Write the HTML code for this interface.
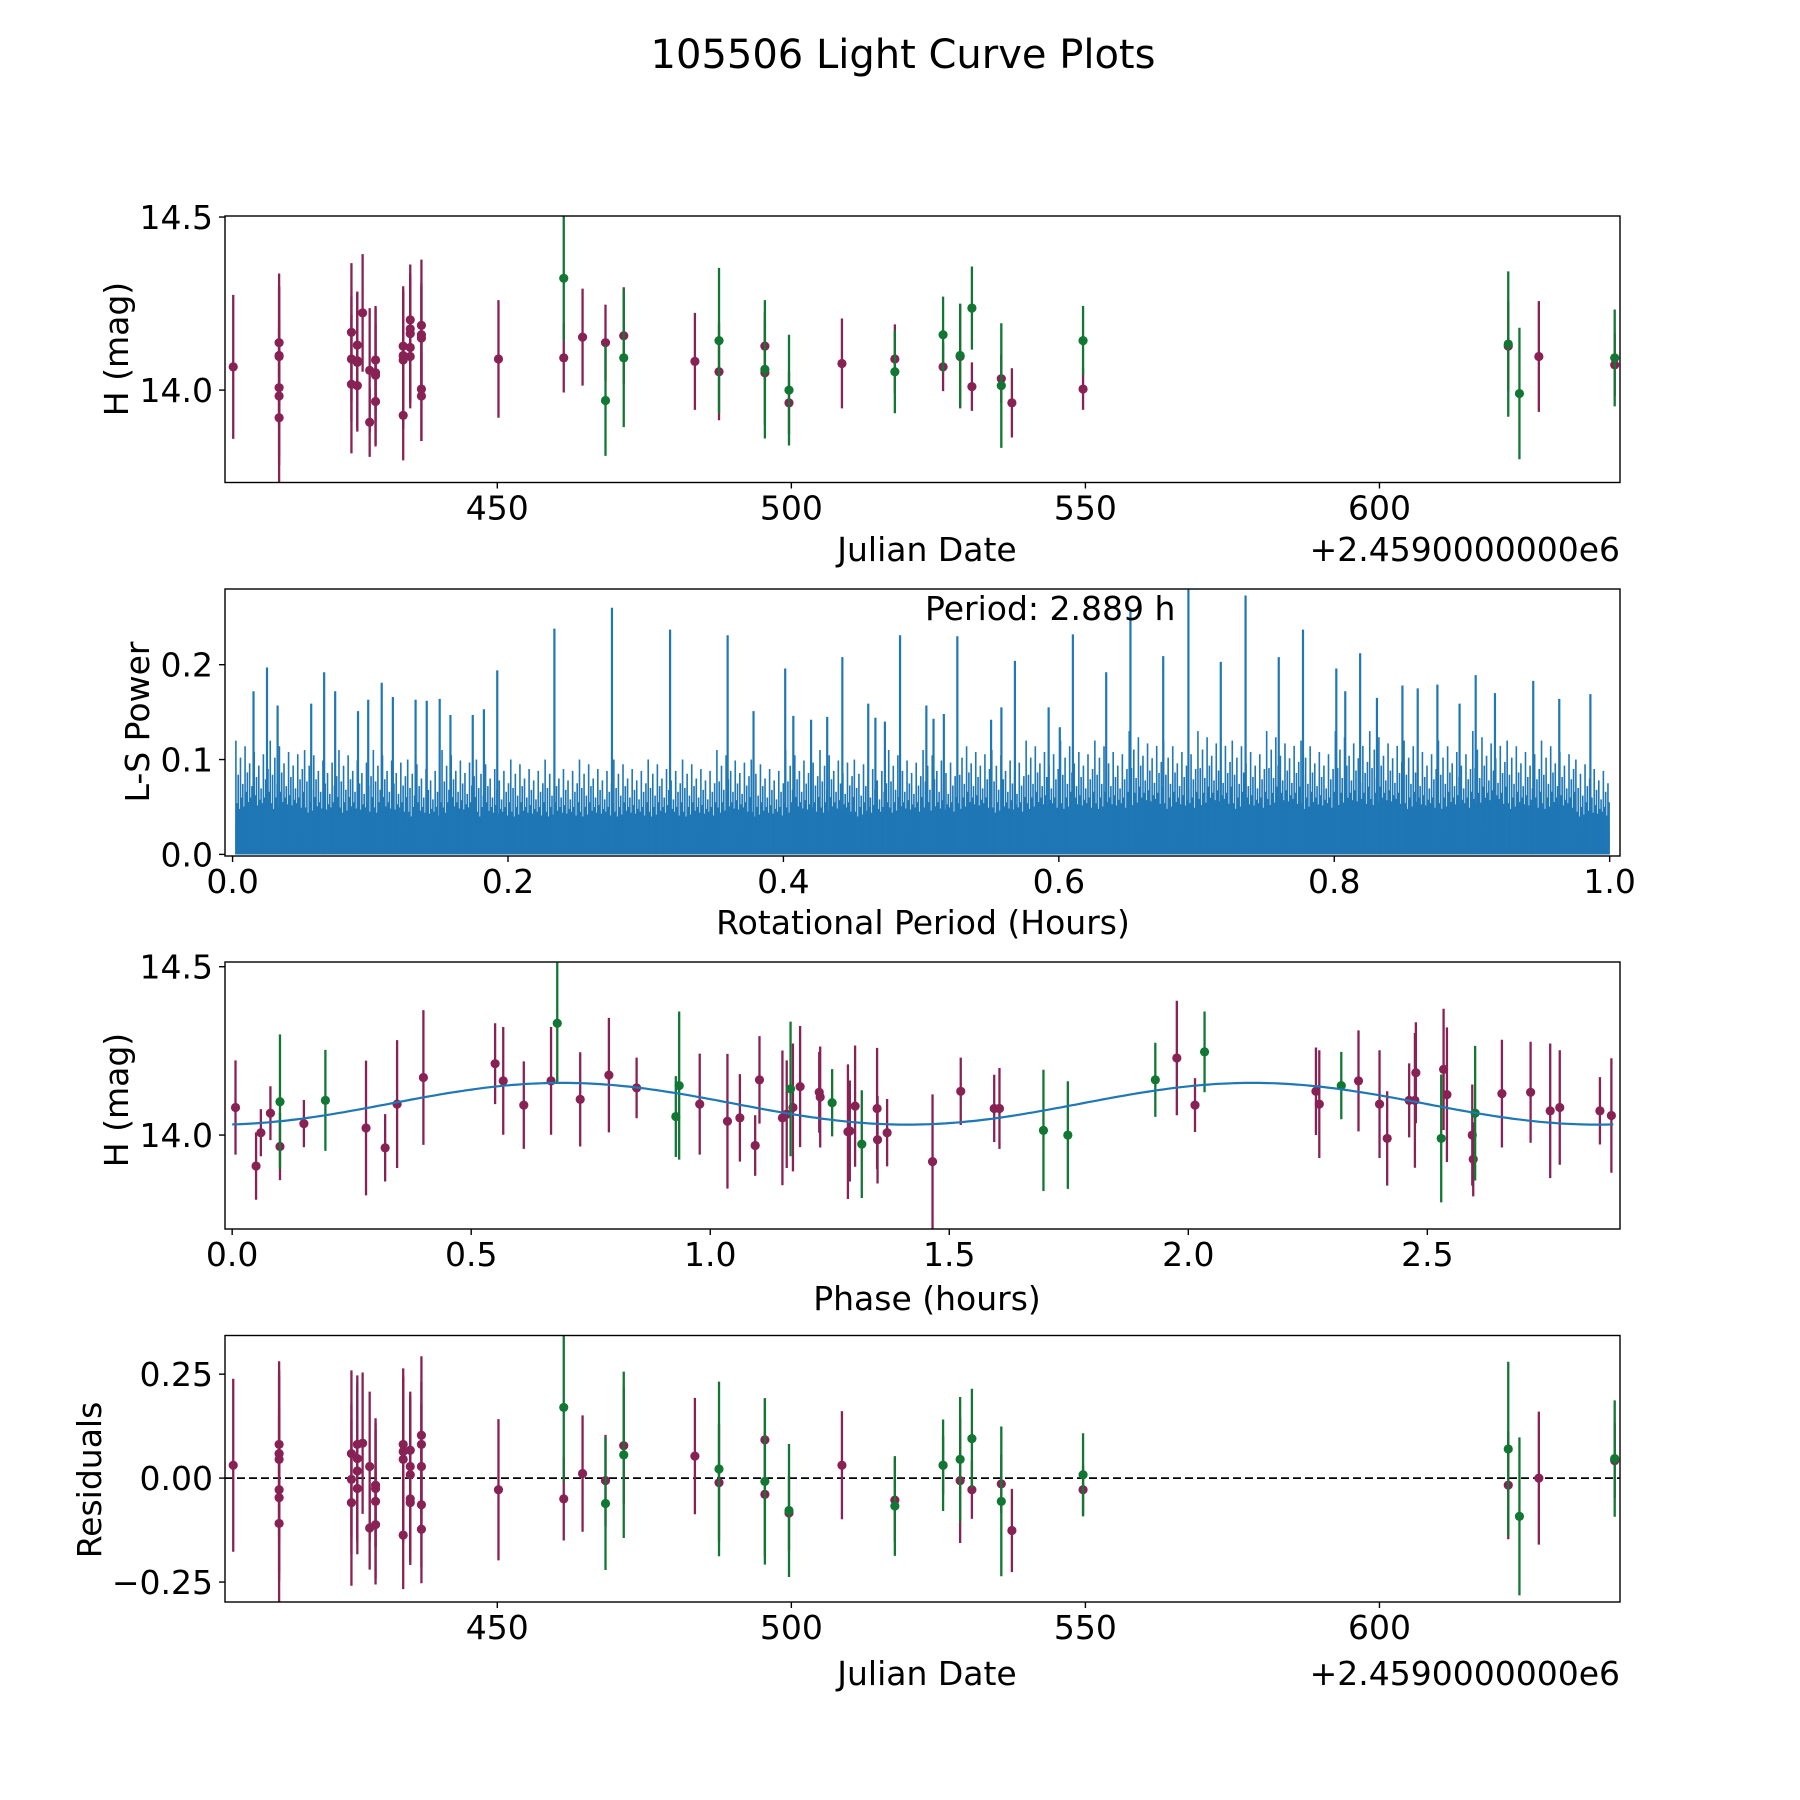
<!DOCTYPE html>
<html><head><meta charset="utf-8"><title>105506 Light Curve Plots</title>
<style>
html,body{margin:0;padding:0;background:#fff;}
svg{display:block;font-family:"DejaVu Sans","Liberation Sans",sans-serif;}
</style></head>
<body>
<svg id="fig" width="1800" height="1800" viewBox="0 0 1800 1800" xmlns="http://www.w3.org/2000/svg">
<rect width="1800" height="1800" fill="#fff"/>
<text x="903" y="68" font-size="40" text-anchor="middle">105506 Light Curve Plots</text>
</svg>
<script>
// ---------- data: light curve (Julian Date - 2459000) ----------
const jd = [405.1,
412.9,412.9,412.9,412.9,412.9,412.9,
425.2,425.2,425.2,
426.2,426.2,426.2,426.2,
427.1,
428.3,428.3,
429.3,429.3,429.3,429.3,
434.0,434.0,434.0,434.0,
435.2,435.2,435.2,435.2,435.2,
437.1,437.1,437.1,437.1,437.1,
450.2,
461.3,461.3,
464.5,
468.4,468.4,
471.5,471.5,
483.6,
487.7,487.7,
495.5,495.5,495.5,
499.6,499.6,
508.6,
517.6,517.6,
525.8,525.8,
528.7,528.7,
530.7,530.7,
535.7,535.7,
537.5,
549.6,549.6,
621.9,621.9,
623.8,
627.1,
640.0,640.0];
const mag = [14.067,
14.137,14.10,14.097,14.007,13.983,13.92,
14.167,14.09,14.017,
14.13,14.085,14.08,14.013,
14.223,
14.057,13.907,
14.087,14.05,14.043,13.967,
14.127,14.10,14.087,13.927,
14.203,14.177,14.163,14.123,14.097,
14.187,14.16,14.15,14.003,13.983,
14.09,
14.093,14.323,
14.153,
14.137,13.97,
14.157,14.093,
14.083,
14.053,14.143,
14.127,14.05,14.06,
13.963,14.0,
14.077,
14.09,14.053,
14.067,14.16,
14.097,14.10,
14.01,14.237,
14.033,14.013,
13.963,
14.003,14.143,
14.127,14.133,
13.99,
14.097,
14.073,14.093];
const err = [0.208,
0.2,0.2,0.2,0.2,0.2,0.2,
0.2,0.18,0.2,
0.15,0.2,0.2,0.12,
0.17,
0.18,0.1,
0.15,0.14,0.2,0.13,
0.16,0.2,0.2,0.13,
0.13,0.16,0.2,0.15,0.15,
0.19,0.15,0.15,0.15,0.13,
0.17,
0.1,0.18,
0.14,
0.11,0.16,
0.14,0.2,
0.14,
0.14,0.21,
0.1,0.15,0.2,
0.09,0.16,
0.13,
0.1,0.12,
0.07,0.11,
0.15,0.15,
0.07,0.12,
0.07,0.18,
0.1,
0.06,0.1,
0.13,0.21,
0.19,
0.16,
0.09,0.14];
// band: 0 = wine filter, 1 = green filter
const band = [0,
0,0,0,0,0,0,
0,0,0,
0,0,0,0,
0,
0,0,
0,0,0,0,
0,0,0,0,
0,0,0,0,0,
0,0,0,0,0,
0,
0,1,
0,
0,1,
0,1,
0,
0,1,
0,0,1,
0,1,
0,
0,1,
0,1,
0,1,
0,1,
0,1,
0,
0,1,
0,1,
1,
0,
0,1];
const resid = [0.031,
0.081,0.059,0.045,-0.028,-0.047,-0.109,
0.059,-0.003,-0.059,
0.081,0.047,0.017,-0.025,
0.084,
0.028,-0.12,
-0.017,-0.025,-0.056,-0.112,
0.081,0.064,0.045,-0.137,
0.067,0.028,0.008,-0.05,-0.059,
0.103,0.081,0.028,-0.064,-0.123,
-0.028,
-0.05,0.17,
0.011,
-0.006,-0.061,
0.078,0.056,
0.053,
-0.011,0.022,
0.092,-0.039,-0.008,
-0.084,-0.078,
0.031,
-0.053,-0.067,
0.031,0.031,
-0.006,0.045,
-0.028,0.095,
-0.014,-0.056,
-0.126,
-0.028,0.008,
-0.017,0.07,
-0.092,
0.0,
0.042,0.047];

// ---------- data: phase folded (hours) ----------
const phase = [0.007,0.05,0.06,0.08,0.10,0.10,0.15,0.195,0.28,0.32,0.345,0.40,0.55,0.567,0.61,0.667,0.68,0.728,0.788,0.846,0.928,0.935,0.978,1.036,1.062,1.094,1.103,1.151,1.16,1.168,1.173,1.188,1.228,1.23,1.255,1.288,1.292,1.303,1.317,1.349,1.35,1.37,1.465,1.524,1.594,1.605,1.697,1.748,1.931,1.976,2.014,2.034,2.267,2.274,2.32,2.356,2.40,2.416,2.462,2.474,2.476,2.529,2.534,2.541,2.594,2.596,2.60,2.656,2.716,2.757,2.777,2.861,2.885];
const phaseMag = [14.082,13.908,14.007,14.065,14.099,13.966,14.034,14.103,14.021,13.962,14.092,14.171,14.212,14.161,14.089,14.161,14.332,14.106,14.178,14.14,14.055,14.147,14.092,14.041,14.051,13.969,14.164,14.051,14.062,14.137,14.082,14.144,14.127,14.113,14.096,14.01,14.012,14.086,13.973,14.079,13.986,14.007,13.921,14.13,14.079,14.079,14.014,14.0,14.164,14.229,14.089,14.247,14.13,14.092,14.147,14.161,14.092,13.99,14.103,14.103,14.185,13.99,14.195,14.12,14.0,13.928,14.065,14.123,14.127,14.072,14.082,14.072,14.058];
const phaseErr = [0.14,0.1,0.07,0.08,0.2,0.1,0.07,0.15,0.2,0.1,0.19,0.2,0.12,0.16,0.13,0.16,0.18,0.14,0.17,0.09,0.12,0.22,0.15,0.2,0.13,0.09,0.13,0.2,0.16,0.2,0.19,0.18,0.12,0.15,0.1,0.2,0.15,0.18,0.16,0.18,0.13,0.1,0.2,0.1,0.1,0.12,0.18,0.16,0.11,0.17,0.08,0.12,0.13,0.16,0.1,0.15,0.16,0.14,0.11,0.2,0.15,0.19,0.18,0.2,0.15,0.11,0.2,0.16,0.15,0.2,0.17,0.1,0.17];
const phaseBand = [0,0,0,0,1,0,0,1,0,0,0,0,0,0,0,0,1,0,0,0,1,1,0,0,0,0,0,0,0,1,0,0,0,0,1,0,0,0,1,0,0,0,0,0,0,0,1,1,1,0,0,1,0,0,1,0,0,0,0,0,0,1,0,0,0,0,1,0,0,0,0,0,0];
// model fit parameters
const fitMean = [14.093];
const fitAmp = [0.062];
const fitPeakPhase = [0.69];
const fitPeriod = [2.889];

// ---------- data: Lomb-Scargle periodogram ----------
const spikePeriod = [0.0152,0.025,0.0327,0.0571,0.0665,0.0745,0.0911,0.0985,0.1083,0.1164,0.1329,0.141,0.1504,0.1582,0.1744,0.1825,0.1922,0.2337,0.2755,0.3177,0.3595,0.3783,0.4013,0.4072,0.4201,0.4318,0.4428,0.4616,0.4668,0.4737,0.4847,0.5038,0.509,0.5165,0.5263,0.5508,0.5583,0.5681,0.5926,0.6007,0.6102,0.6344,0.652,0.6758,0.6941,0.7176,0.7356,0.7597,0.7773,0.8015,0.808,0.8188,0.831,0.8495,0.8606,0.8749,0.891,0.9027,0.9167,0.9445,0.9634,0.986];
const spikePower = [0.172,0.197,0.157,0.159,0.192,0.172,0.151,0.163,0.181,0.166,0.163,0.162,0.164,0.147,0.147,0.153,0.194,0.238,0.26,0.237,0.231,0.151,0.196,0.146,0.142,0.145,0.208,0.159,0.144,0.14,0.231,0.157,0.143,0.148,0.23,0.142,0.155,0.204,0.155,0.134,0.232,0.192,0.257,0.209,0.3,0.203,0.273,0.208,0.237,0.196,0.172,0.212,0.165,0.178,0.175,0.179,0.159,0.189,0.17,0.183,0.164,0.169];
const envelopePower = [0.12,0.12,0.11,0.11,0.11,0.10,0.11,0.10,0.10,0.10,0.10,0.10,0.10,0.10,0.11,0.10,0.11,0.11,0.10,0.11,0.11,0.12,0.11,0.12,0.12,0.12,0.13,0.12,0.13,0.12,0.13,0.12,0.13,0.13,0.12,0.12,0.13,0.12,0.12,0.10];
const basePower = [0.03];

// tick labels
const jdTicks = [450,500,550,600];
const magTicks = [14.0,14.5];
const powerXTicks = [0.0,0.2,0.4,0.6,0.8,1.0];
const powerYTicks = [0.0,0.1,0.2];
const phaseTicks = [0.0,0.5,1.0,1.5,2.0,2.5];
const residTicks = [-0.25,0.0,0.25];

// ---------- drawing ----------
const NS = "http://www.w3.org/2000/svg";
const svg = document.getElementById('fig');
const COL = ['#882255','#117733'];
const BLUE = '#1f77b4';
function el(tag, attrs, parent){
  const e = document.createElementNS(NS, tag);
  for (const k in attrs) e.setAttribute(k, attrs[k]);
  (parent||svg).appendChild(e);
  return e;
}
function makeAxis(L,R,T,B,x0,x1,y0,y1){
  return {L,R,T,B,
    sx:v=>L+(v-x0)/(x1-x0)*(R-L),
    sy:v=>B-(v-y0)/(y1-y0)*(B-T)};
}
function frame(ax,name){
  const g = el('g',{});
  
  
  const clipId = name+'-clip';
  const cp = el('clipPath',{id:clipId},g);
  el('rect',{x:ax.L,y:ax.T,width:ax.R-ax.L,height:ax.B-ax.T},cp);
  const plot = el('g',{'clip-path':'url(#'+clipId+')'},g);
  
  
  ax.g = g; ax.plot = plot;
  return ax;
}
function spine(ax,name){
  const r = el('rect',{x:ax.L,y:ax.T,width:ax.R-ax.L,height:ax.B-ax.T,fill:'none',stroke:'#000','stroke-width':1.4},ax.g);
  
  
}
function xticks(ax,ticks,fmt,name){
  ticks.forEach(t=>{
    const x = ax.sx(t);
    const l = el('line',{x1:x,x2:x,y1:ax.B,y2:ax.B+6,stroke:'#000','stroke-width':1.4},ax.g);
    
    
    const tx = el('text',{x:x,y:ax.B+37,'font-size':33,'text-anchor':'middle'},ax.g);
    tx.textContent = fmt(t);
    
    
  });
}
function yticks(ax,ticks,fmt,name){
  ticks.forEach(t=>{
    const y = ax.sy(t);
    const l = el('line',{x1:ax.L-6,x2:ax.L,y1:y,y2:y,stroke:'#000','stroke-width':1.4},ax.g);
    
    
    const tx = el('text',{x:ax.L-12,y:y+12,'font-size':33,'text-anchor':'end'},ax.g);
    tx.textContent = fmt(t);
    
    
  });
}
function label(x,y,txt,rot,name){
  const t = el('text',{x:x,y:y,'font-size':33,'text-anchor':'middle'});
  if (rot) t.setAttribute('transform','rotate(-90 '+x+' '+y+')');
  t.textContent = txt;
  
  
  return t;
}
function errPoint(ax,x,y,e,c,name){
  const l = el('line',{x1:ax.sx(x),x2:ax.sx(x),y1:ax.sy(y-e),y2:ax.sy(y+e),stroke:COL[c],'stroke-width':2.3},ax.plot);
  
  
  const p = el('circle',{cx:ax.sx(x),cy:ax.sy(y),r:4.6,fill:COL[c]},ax.plot);
  
  
}
const minus = s=>s.replace('-','\u2212');

// Axis 1: light curve
const ax1 = frame(makeAxis(225,1620,216,482.5,403.7,640.9,13.733,14.503),'light-curve-axes');
jd.forEach((d,i)=>{ if(band[i]===0) errPoint(ax1,d,mag[i],err[i],0,'light-curve'); });
jd.forEach((d,i)=>{ if(band[i]===1) errPoint(ax1,d,mag[i],err[i],1,'light-curve'); });
spine(ax1,'light-curve');
xticks(ax1,jdTicks,t=>String(t),'light-curve-x');
yticks(ax1,magTicks,t=>t.toFixed(1),'light-curve-y');
label(927,561,'Julian Date',false,'light-curve-x-axis-title');
let off = el('text',{x:1620,y:561,'font-size':33,'text-anchor':'end'});
off.textContent = '+2.4590000000e6';


label(128,349,'H (mag)',true,'light-curve-y-axis-title');

// Axis 2: periodogram
const ax2 = frame(makeAxis(225,1620,589,856,-0.0055,1.0075,-0.0017,0.2798),'periodogram-axes');
{
  const b = el('rect',{x:ax2.sx(0.002),y:ax2.sy(basePower[0]),width:ax2.sx(1.0)-ax2.sx(0.002),height:ax2.sy(0)-ax2.sy(basePower[0]),fill:BLUE},ax2.plot);
  
  
  // texture only (relative heights of dense noise lines within each bin)
  const pattern = [1,0.45,0.7,0.4,0.85,0.5,0.62,0.42,0.95,0.55,0.72,0.46,0.8,0.5,0.6,0.44,0.9,0.52,0.68,0.43,0.78,0.48,0.58,0.45,0.88,0.5,0.66,0.41,0.75,0.55];
  const nb = envelopePower.length;
  envelopePower.forEach((env,i)=>{
    for (let k=0;k<pattern.length;k++){
      const p = 0.002 + (i + (k+0.5)/pattern.length)/nb*0.998;
      const l = el('line',{x1:ax2.sx(p),x2:ax2.sx(p),y1:ax2.sy(0),y2:ax2.sy(env*pattern[k]),stroke:BLUE,'stroke-width':1.6},ax2.plot);
      
      
    }
  });
  spikePeriod.forEach((p,i)=>{
    const l = el('line',{x1:ax2.sx(p),x2:ax2.sx(p),y1:ax2.sy(0),y2:ax2.sy(spikePower[i]),stroke:BLUE,'stroke-width':2.2},ax2.plot);
    
    
  });
}
spine(ax2,'periodogram');
xticks(ax2,powerXTicks,t=>t.toFixed(1),'periodogram-x');
yticks(ax2,powerYTicks,t=>t.toFixed(1),'periodogram-y');
label(923,934,'Rotational Period (Hours)',false,'periodogram-x-axis-title');
label(149,722,'L-S Power',true,'periodogram-y-axis-title');
let pt = el('text',{x:925,y:620,'font-size':33,'text-anchor':'start'});
pt.textContent = 'Period: '+fitPeriod[0].toFixed(3)+' h';



// Axis 3: phase folded
const ax3 = frame(makeAxis(225,1620,962,1229,-0.015,2.903,13.721,14.514),'phase-axes');
phase.forEach((p,i)=>{ if(phaseBand[i]===0) errPoint(ax3,p,phaseMag[i],phaseErr[i],0,'phase'); });
phase.forEach((p,i)=>{ if(phaseBand[i]===1) errPoint(ax3,p,phaseMag[i],phaseErr[i],1,'phase'); });
{
  let d='';
  for (let k=0;k<=300;k++){
    const p = k/300*fitPeriod[0];
    const m = fitMean[0] + fitAmp[0]*Math.cos(2*Math.PI*(p-fitPeakPhase[0])/(fitPeriod[0]/2));
    d += (k?'L':'M')+ax3.sx(p).toFixed(1)+' '+ax3.sy(m).toFixed(1);
  }
  const c = el('path',{d:d,fill:'none',stroke:BLUE,'stroke-width':2.2},ax3.plot);
  
  
}
spine(ax3,'phase');
xticks(ax3,phaseTicks,t=>t.toFixed(1),'phase-x');
yticks(ax3,magTicks,t=>t.toFixed(1),'phase-y');
label(927,1310,'Phase (hours)',false,'phase-x-axis-title');
label(128,1100,'H (mag)',true,'phase-y-axis-title');

// Axis 4: residuals
const ax4 = frame(makeAxis(225,1620,1335.5,1602,403.7,640.9,-0.298,0.343),'residuals-axes');
{
  const z = el('line',{x1:ax4.L,x2:ax4.R,y1:ax4.sy(0),y2:ax4.sy(0),stroke:'#000','stroke-width':1.8,'stroke-dasharray':'8,4'},ax4.plot);
  
  
}
jd.forEach((d,i)=>{ if(band[i]===0) errPoint(ax4,d,resid[i],err[i],0,'residual'); });
jd.forEach((d,i)=>{ if(band[i]===1) errPoint(ax4,d,resid[i],err[i],1,'residual'); });
spine(ax4,'residuals');
xticks(ax4,jdTicks,t=>String(t),'residuals-x');
yticks(ax4,residTicks,t=>minus(t.toFixed(2)),'residuals-y');
label(927,1685,'Julian Date',false,'residuals-x-axis-title');
let off2 = el('text',{x:1620,y:1685,'font-size':33,'text-anchor':'end'});
off2.textContent = '+2.4590000000e6';


label(101,1480,'Residuals',true,'residuals-y-axis-title');
</script>
</body></html>
